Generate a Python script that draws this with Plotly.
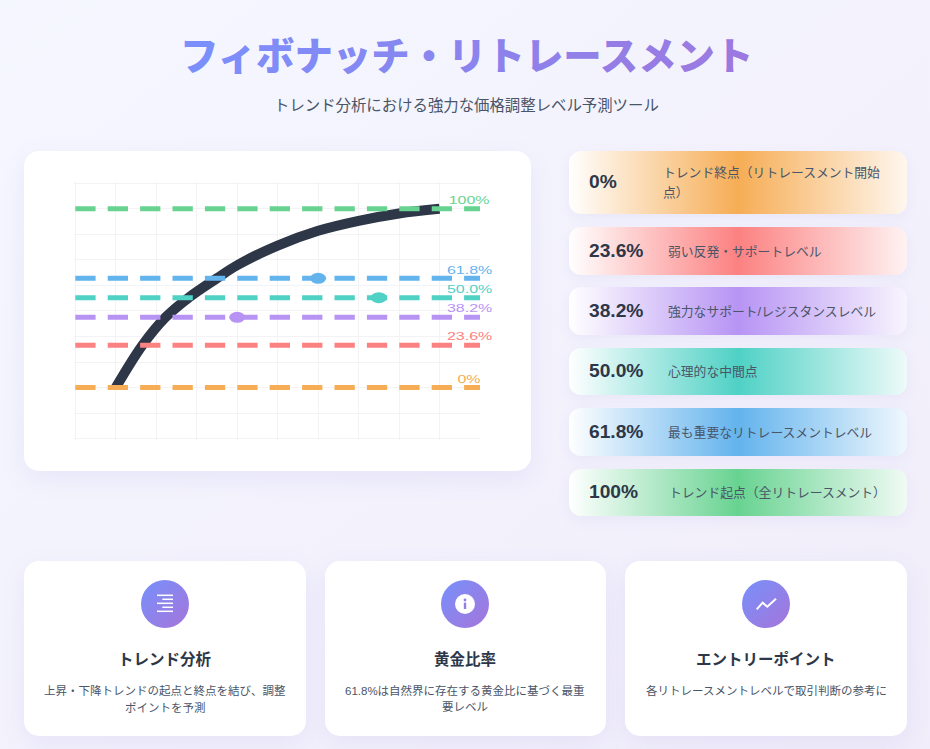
import base64
import plotly.graph_objects as go

W = 930
H = 749

# chart data
level_names = ["0%", "23.6%", "38.2%", "50.0%", "61.8%", "100%"]
level_values = [100, 116.6, 127.5, 135.2, 142.8, 170]
level_colors = ["#f6ad55", "#fc8181", "#b794f4", "#4fd1c5", "#63b3ed", "#68d391"]
label_lift = [9, 9, 9, 9, 8, 9]
curve_x = [1, 1.66, 2.23, 2.8, 3.5, 4, 5, 6, 7, 8, 9]
curve_y = [100, 116.6, 127.5, 135.2, 142.8, 147.9, 155.6, 161.4, 165.3, 168.2, 170]
point_x = [4, 6, 7.5]
point_y = [127.5, 142.8, 135.2]
point_colors = ["#b794f4", "#63b3ed", "#4fd1c5"]

# cards on the right
card_names = ["0%", "23.6%", "38.2%", "50.0%", "61.8%", "100%"]
card_texts = [
    ["トレンド終点（リトレースメント開始", "点）"],
    ["弱い反発・サポートレベル"],
    ["強力なサポート/レジスタンスレベル"],
    ["心理的な中間点"],
    ["最も重要なリトレースメントレベル"],
    ["トレンド起点（全リトレースメント）"],
]
card_top = [151, 227, 287, 348, 408, 469]
card_bottom = [214, 275, 335, 395, 456, 516]
card_text_x = [661, 666, 666, 666, 666, 667]

# feature cards
feature_titles = ["トレンド分析", "黄金比率", "エントリーポイント"]
feature_texts = [
    ["上昇・下降トレンドの起点と終点を結び、調整", "ポイントを予測"],
    ["61.8%は自然界に存在する黄金比に基づく最重", "要レベル"],
    ["各リトレースメントレベルで取引判断の参考に"],
]
feature_left = [24, 325, 625]
feature_right = [306, 606, 907]
feature_center = [165, 465, 766]

TITLE = "フィボナッチ・リトレースメント"
SUBTITLE = "トレンド分析における強力な価格調整レベル予測ツール"
JP_FONT = "Liberation Sans, Noto Sans CJK JP, sans-serif"


def mix(c1, c2, t):
    a = [int(c1[i:i + 2], 16) for i in (1, 3, 5)]
    b = [int(c2[i:i + 2], 16) for i in (1, 3, 5)]
    return "#%02x%02x%02x" % tuple(round(p + (q - p) * t) for p, q in zip(a, b))


def panel_svg():
    # page background, card shadows, card gradients and the three round icons
    parts = [
        f'<svg xmlns="http://www.w3.org/2000/svg" width="{W}" height="{H}" viewBox="0 0 {W} {H}">',
        "<defs>",
        '<linearGradient id="page" x1="0" y1="0" x2="1" y2="1">'
        '<stop offset="0" stop-color="#f5f7ff"/><stop offset="1" stop-color="#f1edfa"/></linearGradient>',
        '<linearGradient id="icon" x1="0" y1="0" x2="1" y2="1">'
        '<stop offset="0" stop-color="#7790fb"/><stop offset="1" stop-color="#a575da"/></linearGradient>',
        '<filter id="soft" x="-20%" y="-30%" width="140%" height="160%"><feGaussianBlur stdDeviation="13"/></filter>',
        '<filter id="softer" x="-20%" y="-50%" width="140%" height="200%"><feGaussianBlur stdDeviation="7"/></filter>',
    ]
    for i, col in enumerate(level_colors):
        parts.append(
            f'<linearGradient id="lv{i}"><stop offset="0" stop-color="{col}" stop-opacity="0"/>'
            f'<stop offset="0.5" stop-color="{col}"/>'
            f'<stop offset="1" stop-color="{col}" stop-opacity="0.1"/></linearGradient>'
        )
    parts.append("</defs>")
    parts.append(f'<rect width="{W}" height="{H}" fill="url(#page)"/>')

    # chart card
    parts.append('<rect x="24" y="159" width="507" height="320" rx="15" fill="#6a5acd" opacity="0.09" filter="url(#soft)"/>')
    parts.append('<rect x="24" y="151" width="507" height="320" rx="15" fill="#ffffff"/>')

    # level cards
    for i, (t, b) in enumerate(zip(card_top, card_bottom)):
        h = b - t
        parts.append(f'<rect x="569" y="{t + 4}" width="338" height="{h}" rx="12" fill="#6a5acd" opacity="0.07" filter="url(#softer)"/>')
        parts.append(f'<rect x="569" y="{t}" width="338" height="{h}" rx="12" fill="#ffffff"/>')
        parts.append(f'<rect x="569" y="{t}" width="338" height="{h}" rx="12" fill="url(#lv{i})"/>')

    # feature cards
    for left, right, cx in zip(feature_left, feature_right, feature_center):
        w = right - left
        parts.append(f'<rect x="{left}" y="569" width="{w}" height="175" rx="15" fill="#6a5acd" opacity="0.09" filter="url(#soft)"/>')
        parts.append(f'<rect x="{left}" y="561" width="{w}" height="175" rx="15" fill="#ffffff"/>')
        parts.append(f'<circle cx="{cx}" cy="604" r="24" fill="url(#icon)"/>')

    # icon: lines
    for k, y in enumerate([595.3, 599.3, 603.3, 607.3, 611.3]):
        x0 = 162.3 if k % 2 else 157
        parts.append(f'<rect x="{x0}" y="{y - 0.75}" width="{173 - x0}" height="1.5" fill="#ffffff"/>')
    # icon: info
    parts.append('<circle cx="465" cy="604" r="10" fill="#ffffff"/>')
    parts.append('<circle cx="465" cy="600" r="1.4" fill="#8f7fe8"/>')
    parts.append('<rect x="463.8" y="602.6" width="2.4" height="6.4" fill="#8f7fe8"/>')
    # icon: trend
    parts.append('<polyline points="756.7,609.3 762.7,602.7 767.3,606.7 776,598.7" fill="none" stroke="#ffffff" stroke-width="2"/>')
    parts.append("</svg>")
    raw = "".join(parts).encode("utf-8")
    return "data:image/svg+xml;base64," + base64.b64encode(raw).decode("ascii")


fig = go.Figure()

fig.add_trace(go.Scatter(
    x=curve_x, y=curve_y, mode="lines",
    line=dict(color="#2d3748", width=10, shape="spline", smoothing=1),
    hoverinfo="skip", showlegend=False,
))

for name, value, col in zip(level_names, level_values, level_colors):
    fig.add_trace(go.Scatter(
        x=[0, 10], y=[value, value], mode="lines", name=name,
        line=dict(color=col, width=5, dash="20.3px,12.1px"),
        hoverinfo="skip", showlegend=False,
    ))

shapes = []
for px_, py_, col in zip(point_x, point_y, point_colors):
    shapes.append(dict(
        type="circle", xref="x", yref="y", layer="above",
        xsizemode="pixel", ysizemode="pixel", xanchor=px_, yanchor=py_,
        x0=-8, x1=8, y0=-5.5, y1=5.5,
        fillcolor=col, line=dict(width=0),
    ))

notes = []


def px_note(x, y, text, size, color, anchor="center", weight=400, family=JP_FONT):
    notes.append(dict(
        xref="paper", yref="paper", x=x / W, y=1 - y / H,
        text=text, showarrow=False, xanchor=anchor, yanchor="middle",
        font=dict(size=size, color=color, family=family, weight=weight),
    ))


# title with the colour moving along the text
spans = []
for i, ch in enumerate(TITLE):
    spans.append(f'<span style="color:{mix("#7b8ffb", "#9b79e0", i / (len(TITLE) - 1))}">{ch}</span>')
px_note(466.5, 53, "".join(spans), 38.4, "#7b8ffb", weight=900, family="Noto Sans CJK JP")
px_note(466, 104, SUBTITLE, 15.4, "#4a5568", family="Noto Sans CJK JP")

for name, lines, t, b, tx in zip(card_names, card_texts, card_top, card_bottom, card_text_x):
    mid = (t + b) / 2
    px_note(587, mid - 1, name, 19.2, "#2d3748", anchor="left", weight=700)
    start = mid - 9.8 * (len(lines) - 1)
    for k, line in enumerate(lines):
        px_note(tx, start + 19.6 * k, line, 12.8, "#4a5568", anchor="left")

for title, lines, cx in zip(feature_titles, feature_texts, feature_center):
    px_note(cx, 657.5, title, 15.5, "#2d3748", weight=700, family="Noto Sans CJK JP")
    for k, line in enumerate(lines):
        px_note(cx, 690 + 17 * k, line, 11.5, "#4a5568")

# the level labels over the chart
for name, value, col, lift in zip(level_names, level_values, level_colors, label_lift):
    notes.append(dict(
        xref="x", yref="y", x=9.74, y=value, yshift=lift, text=name, showarrow=False,
        xanchor="center", yanchor="middle",
        font=dict(size=11, color=col, family="Liberation Sans"),
    ))

fig.update_layout(
    width=W, height=H,
    margin=dict(l=0, r=0, t=0, b=0),
    paper_bgcolor="rgba(0,0,0,0)",
    plot_bgcolor="rgba(0,0,0,0)",
    showlegend=False,
    shapes=shapes,
    annotations=notes,
    images=[dict(
        source=panel_svg(), xref="paper", yref="paper",
        x=0, y=1, sizex=1, sizey=1, xanchor="left", yanchor="top",
        sizing="stretch", layer="below",
    )],
    # ranges go 1.5px past the first and last grid lines so plotly keeps them
    xaxis=dict(
        domain=[73.8 / W, 480 / W], range=[-1.5 / 40.47, 10],
        tickvals=list(range(10)), showticklabels=False, ticks="",
        showgrid=True, gridcolor="#f3f3f6", gridwidth=1, zeroline=False, showline=False,
    ),
    yaxis=dict(
        domain=[1 - 440.1 / H, 1 - 181.8 / H], range=[80 - 1.5 / 2.553, 180 + 1.5 / 2.553],
        tickvals=list(range(80, 181, 10)), showticklabels=False, ticks="",
        showgrid=True, gridcolor="#f3f3f6", gridwidth=1, zeroline=False, showline=False,
    ),
)

# the original canvas is stretched sideways, so widen its labels the same way
post = """
document.documentElement.style.overflow = 'hidden';
document.body.style.margin = '0';
document.querySelectorAll('.annotation-text').forEach(function (t) {
    if (t.style.fontSize === '11px') {
        t.setAttribute('textLength', t.getComputedTextLength() * 1.45);
        t.setAttribute('lengthAdjust', 'spacingAndGlyphs');
    }
});
"""

fig.write_html("out.html", config={"displayModeBar": False}, post_script=post)
